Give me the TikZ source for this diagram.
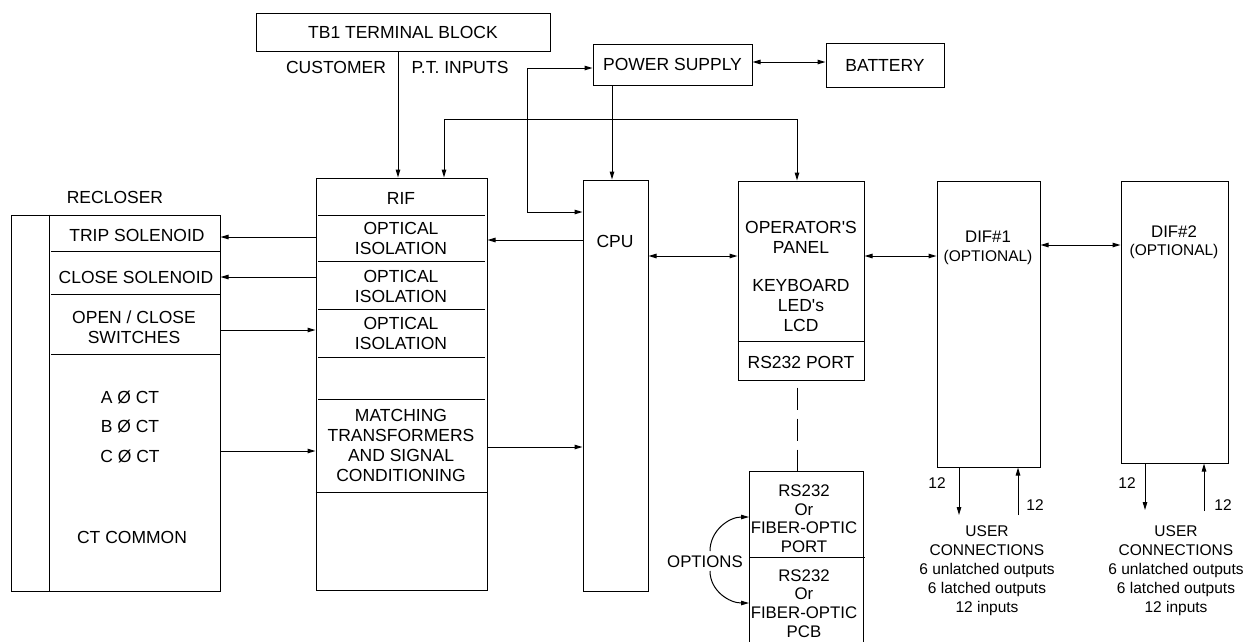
\documentclass[tikz,border=0pt]{standalone}
\usepackage{fontspec}
\setmainfont{Liberation Sans}
\usetikzlibrary{arrows.meta,calc}
\begin{document}
\begin{tikzpicture}[x=1pt,y=-1pt,
  every node/.style={font=\fontsize{17.5}{20}\selectfont, inner sep=0pt, align=center},
  box/.style={draw, line width=1pt},
  small/.style={font=\fontsize{15.5}{19}\selectfont},
  mid/.style={font=\fontsize{16.8}{18.7}\selectfont},
  ln/.style={line width=1pt},
  arr/.style={ln, -{Triangle[length=8pt,width=4.5pt]}},
  darr/.style={ln, {Triangle[length=8pt,width=4.5pt]}-{Triangle[length=8pt,width=4.5pt]}},
  dashln/.style={ln, dash pattern=on 22pt off 9pt, dash phase=24pt}
]
\useasboundingbox (0,0) rectangle (1255,641);

% ---------- boxes ----------
\node[box, minimum width=294pt, minimum height=38pt] (tb1) at (403,32) {TB1 TERMINAL BLOCK};
\node (cust) at (336,67) {CUSTOMER};
\node (ptin) at (460,67) {P.T. INPUTS};

\node[box, minimum width=159pt, minimum height=41pt] (ps) at (672.5,64.5) {POWER SUPPLY};
\node[box, minimum width=118pt, minimum height=44pt] (bat) at (885,65) {BATTERY};

% recloser
\node (reclbl) at (115,197) {RECLOSER};
\node[box, minimum width=209pt, minimum height=376pt] (rec) at (115.5,403) {};
\draw[ln] (rec.north -| 49,0) -- (rec.south -| 49,0);
\draw[ln] (51,251.7) -- (rec.east |- 0,251.7);
\draw[ln] (51,294.3) -- (rec.east |- 0,294.3);
\draw[ln] (51,354.3) -- (rec.east |- 0,354.3);
\node (trip) at (137,235) {TRIP SOLENOID};
\node (close) at (136,277) {CLOSE SOLENOID};
\node (ocsw) at (134,327.5) {OPEN / CLOSE\\SWITCHES};
\node (act) at (130,397) {A Ø CT};
\node (bct) at (130,426) {B Ø CT};
\node (cct) at (130,456) {C Ø CT};
\node (ctc) at (132,537) {CT COMMON};

% RIF
\node[box, minimum width=171pt, minimum height=412pt] (rif) at (401.5,384) {};
\draw[ln] (318,215) -- (485,215);
\draw[ln] (318,261) -- (485,261);
\draw[ln] (318,309) -- (485,309);
\draw[ln] (318,357.3) -- (485,357.3);
\draw[ln] (318,399.3) -- (485,399.3);
\draw[ln] (rif.west |- 0,492) -- (rif.east |- 0,492);
\node (riflbl) at (401,198) {RIF};
\node (opt1) at (401,238) {OPTICAL\\ISOLATION};
\node (opt2) at (401,286) {OPTICAL\\ISOLATION};
\node (opt3) at (401,333) {OPTICAL\\ISOLATION};
\node (match) at (401,445.5) {MATCHING\\TRANSFORMERS\\AND SIGNAL\\CONDITIONING};

% CPU
\node[box, minimum width=65pt, minimum height=411pt] (cpu) at (615.5,385.5) {};
\node (cpulbl) at (615,241) {CPU};

% operator's panel
\node[box, minimum width=126pt, minimum height=199pt] (op) at (801,280.5) {};
\draw[ln] (op.west |- 0,341) -- (op.east |- 0,341);
\node (oplbl) at (801,237.5) {OPERATOR\textquotesingle S\\PANEL};
\node (kbd) at (801,305.5) {KEYBOARD\\LED\textquotesingle s\\LCD};
\node (rsport) at (801,362) {RS232 PORT};

% RS232 / fiber optic
\coordinate (rstop) at (797,471);
\draw[ln] (749,642) -- (749,471) -- (863,471) -- (863,642);
\draw[ln] (749,557.3) -- (865,557.3);
\node[mid] (rs1) at (804,518.7) {RS232\\Or\\FIBER-OPTIC\\PORT};
\node[mid] (rs2) at (804,603.3) {RS232\\Or\\FIBER-OPTIC\\PCB};
\node[mid] (optns) at (705,562) {OPTIONS};
\coordinate (rsa) at (749,517);
\coordinate (rsb) at (749,603);

% DIF boxes
\node[box, minimum width=103pt, minimum height=286pt] (dif1) at (988.5,324) {};
\node (dif1lbl) at (988,236.5) {\fontsize{16.8}{20}\selectfont DIF\#1};
\node[small] (dif1opt) at (988,257) {(OPTIONAL)};
\node[box, minimum width=107pt, minimum height=282pt] (dif2) at (1174.5,322) {};
\node (dif2lbl) at (1174,231.5) {\fontsize{16.8}{20}\selectfont DIF\#2};
\node[small] (dif2opt) at (1174,251) {(OPTIONAL)};

\node[small] (uc1) at (987,571) {USER\\CONNECTIONS\\6 unlatched outputs\\6 latched outputs\\12 inputs};
\node[small] (uc2) at (1176,571) {USER\\CONNECTIONS\\6 unlatched outputs\\6 latched outputs\\12 inputs};
\coordinate (u1o) at (959,515);
\coordinate (u1i) at (1018,515);
\coordinate (u2o) at (1145,510);
\coordinate (u2i) at (1204,511);
\node[small] (n1o) at (937,483) {12};
\node[small] (n1i) at (1035,505) {12};
\node[small] (n2o) at (1127,483) {12};
\node[small] (n2i) at (1223,505) {12};

% ---------- connectors ----------
\draw[arr] (tb1.south -| 398,0) -- (rif.north -| 398,0);
\draw[darr] (ps.west |- 0,68) -- (527,68) -- (527,212) -- (cpu.west |- 0,212);
\draw[arr] (ps.south -| 612,0) -- (cpu.north -| 612,0);
\draw[darr] (rif.north -| 444,0) -- (444,119) -- (797,119) -- (op.north -| 797,0);
\draw[darr] (ps.east |- 0,62) -- (bat.west |- 0,62);
\draw[arr] (cpu.west |- 0,240) -- (rif.east |- 0,240);
\draw[arr] (rif.east |- 0,447) -- (cpu.west |- 0,447);
\draw[darr] (cpu.east |- 0,256) -- (op.west |- 0,256);
\draw[darr] (op.east |- 0,256) -- (dif1.west |- 0,256);
\draw[darr] (dif1.east |- 0,245) -- (dif2.west |- 0,245);
\draw[arr] (rif.west |- 0,237) -- (rec.east |- 0,237);
\draw[arr] (rif.west |- 0,277) -- (rec.east |- 0,277);
\draw[arr] (rec.east |- 0,330) -- (rif.west |- 0,330);
\draw[arr] (rec.east |- 0,451) -- (rif.west |- 0,451);
\draw[dashln] (op.south -| rstop) -- (rstop);
\draw[arr] (710,551) to[out=90,in=180] (rsa);
\draw[arr] (710,571) to[out=-90,in=180] (rsb);
\draw[arr] (dif1.south -| u1o) -- (u1o);
\draw[arr] (u1i) -- (dif1.south -| u1i);
\draw[arr] (dif2.south -| u2o) -- (u2o);
\draw[arr] (u2i) -- (dif2.south -| u2i);
\end{tikzpicture}
\end{document}
